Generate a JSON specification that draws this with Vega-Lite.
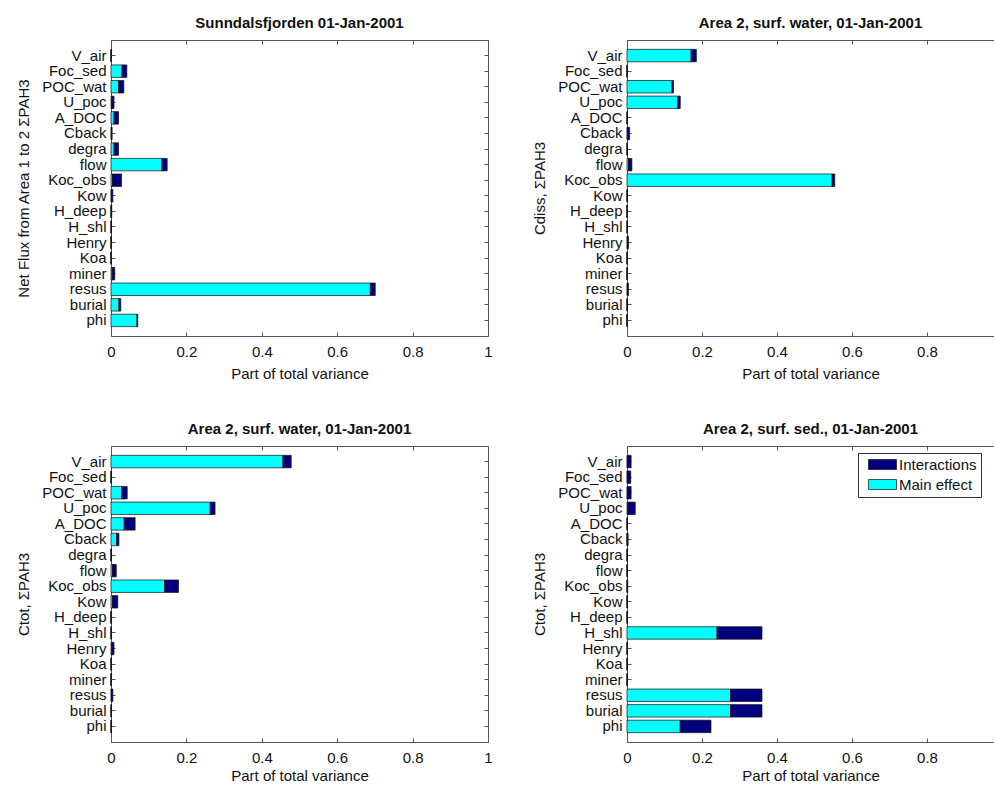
{
  "$schema": "https://vega.github.io/schema/vega-lite/v6.json",
  "padding": {"left": 16, "top": 15, "right": 0, "bottom": 0},
  "background": "white",
  "config": {
    "font": "Liberation Sans",
    "view": {"stroke": null},
    "axis": {"grid": false, "domainColor": "#555", "tickColor": "#555", "tickSize": -4, "labelFontSize": 15, "titleFontSize": 15, "titleFontWeight": "normal", "labelColor": "#111", "titleColor": "#111"},
    "title": {"fontSize": 15, "fontWeight": "bold", "offset": 9, "baseline": "alphabetic", "color": "#111"}
  },
  "datasets": {
    "v": [
      {"panel": "A", "param": "V_air", "Main effect": 0, "Interactions": 0.001},
      {"panel": "A", "param": "Foc_sed", "Main effect": 0.029, "Interactions": 0.013},
      {"panel": "A", "param": "POC_wat", "Main effect": 0.02, "Interactions": 0.014},
      {"panel": "A", "param": "U_poc", "Main effect": 0.002, "Interactions": 0.006},
      {"panel": "A", "param": "A_DOC", "Main effect": 0.008, "Interactions": 0.012},
      {"panel": "A", "param": "Cback", "Main effect": 0.001, "Interactions": 0.002},
      {"panel": "A", "param": "degra", "Main effect": 0.008, "Interactions": 0.012},
      {"panel": "A", "param": "flow", "Main effect": 0.135, "Interactions": 0.014},
      {"panel": "A", "param": "Koc_obs", "Main effect": 0.004, "Interactions": 0.024},
      {"panel": "A", "param": "Kow", "Main effect": 0.001, "Interactions": 0.004},
      {"panel": "A", "param": "H_deep", "Main effect": 0, "Interactions": 0.002},
      {"panel": "A", "param": "H_shl", "Main effect": 0, "Interactions": 0.001},
      {"panel": "A", "param": "Henry", "Main effect": 0, "Interactions": 0.001},
      {"panel": "A", "param": "Koa", "Main effect": 0, "Interactions": 0},
      {"panel": "A", "param": "miner", "Main effect": 0.003, "Interactions": 0.007},
      {"panel": "A", "param": "resus", "Main effect": 0.688, "Interactions": 0.013},
      {"panel": "A", "param": "burial", "Main effect": 0.021, "Interactions": 0.005},
      {"panel": "A", "param": "phi", "Main effect": 0.069, "Interactions": 0.002},
      {"panel": "B", "param": "V_air", "Main effect": 0.171, "Interactions": 0.014},
      {"panel": "B", "param": "Foc_sed", "Main effect": 0, "Interactions": 0},
      {"panel": "B", "param": "POC_wat", "Main effect": 0.12, "Interactions": 0.004},
      {"panel": "B", "param": "U_poc", "Main effect": 0.135, "Interactions": 0.007},
      {"panel": "B", "param": "A_DOC", "Main effect": 0, "Interactions": 0.001},
      {"panel": "B", "param": "Cback", "Main effect": 0.001, "Interactions": 0.006},
      {"panel": "B", "param": "degra", "Main effect": 0, "Interactions": 0.001},
      {"panel": "B", "param": "flow", "Main effect": 0.004, "Interactions": 0.009},
      {"panel": "B", "param": "Koc_obs", "Main effect": 0.547, "Interactions": 0.007},
      {"panel": "B", "param": "Kow", "Main effect": 0, "Interactions": 0.001},
      {"panel": "B", "param": "H_deep", "Main effect": 0, "Interactions": 0},
      {"panel": "B", "param": "H_shl", "Main effect": 0, "Interactions": 0.001},
      {"panel": "B", "param": "Henry", "Main effect": 0.001, "Interactions": 0.003},
      {"panel": "B", "param": "Koa", "Main effect": 0, "Interactions": 0},
      {"panel": "B", "param": "miner", "Main effect": 0, "Interactions": 0},
      {"panel": "B", "param": "resus", "Main effect": 0.001, "Interactions": 0.003},
      {"panel": "B", "param": "burial", "Main effect": 0, "Interactions": 0.001},
      {"panel": "B", "param": "phi", "Main effect": 0, "Interactions": 0},
      {"panel": "C", "param": "V_air", "Main effect": 0.456, "Interactions": 0.022},
      {"panel": "C", "param": "Foc_sed", "Main effect": 0, "Interactions": 0.001},
      {"panel": "C", "param": "POC_wat", "Main effect": 0.028, "Interactions": 0.015},
      {"panel": "C", "param": "U_poc", "Main effect": 0.263, "Interactions": 0.013},
      {"panel": "C", "param": "A_DOC", "Main effect": 0.035, "Interactions": 0.029},
      {"panel": "C", "param": "Cback", "Main effect": 0.015, "Interactions": 0.006},
      {"panel": "C", "param": "degra", "Main effect": 0, "Interactions": 0.001},
      {"panel": "C", "param": "flow", "Main effect": 0.004, "Interactions": 0.01},
      {"panel": "C", "param": "Koc_obs", "Main effect": 0.142, "Interactions": 0.037},
      {"panel": "C", "param": "Kow", "Main effect": 0.004, "Interactions": 0.014},
      {"panel": "C", "param": "H_deep", "Main effect": 0, "Interactions": 0},
      {"panel": "C", "param": "H_shl", "Main effect": 0, "Interactions": 0.001},
      {"panel": "C", "param": "Henry", "Main effect": 0.002, "Interactions": 0.006},
      {"panel": "C", "param": "Koa", "Main effect": 0, "Interactions": 0.001},
      {"panel": "C", "param": "miner", "Main effect": 0, "Interactions": 0.001},
      {"panel": "C", "param": "resus", "Main effect": 0.001, "Interactions": 0.004},
      {"panel": "C", "param": "burial", "Main effect": 0, "Interactions": 0.001},
      {"panel": "C", "param": "phi", "Main effect": 0, "Interactions": 0.001},
      {"panel": "D", "param": "V_air", "Main effect": 0.001, "Interactions": 0.01},
      {"panel": "D", "param": "Foc_sed", "Main effect": 0.001, "Interactions": 0.009},
      {"panel": "D", "param": "POC_wat", "Main effect": 0.001, "Interactions": 0.01},
      {"panel": "D", "param": "U_poc", "Main effect": 0.002, "Interactions": 0.02},
      {"panel": "D", "param": "A_DOC", "Main effect": 0, "Interactions": 0.001},
      {"panel": "D", "param": "Cback", "Main effect": 0, "Interactions": 0.003},
      {"panel": "D", "param": "degra", "Main effect": 0, "Interactions": 0.001},
      {"panel": "D", "param": "flow", "Main effect": 0, "Interactions": 0.001},
      {"panel": "D", "param": "Koc_obs", "Main effect": 0, "Interactions": 0.002},
      {"panel": "D", "param": "Kow", "Main effect": 0, "Interactions": 0.001},
      {"panel": "D", "param": "H_deep", "Main effect": 0, "Interactions": 0.001},
      {"panel": "D", "param": "H_shl", "Main effect": 0.24, "Interactions": 0.12},
      {"panel": "D", "param": "Henry", "Main effect": 0, "Interactions": 0.001},
      {"panel": "D", "param": "Koa", "Main effect": 0, "Interactions": 0.001},
      {"panel": "D", "param": "miner", "Main effect": 0, "Interactions": 0.001},
      {"panel": "D", "param": "resus", "Main effect": 0.276, "Interactions": 0.084},
      {"panel": "D", "param": "burial", "Main effect": 0.276, "Interactions": 0.084},
      {"panel": "D", "param": "phi", "Main effect": 0.142, "Interactions": 0.082}
    ]
  },
  "data": {"name": "v"},
  "transform": [{"fold": ["Main effect", "Interactions"], "as": ["type", "value"]}],
  "resolve": {"scale": {"color": "independent"}, "legend": {"color": "independent"}},
  "spacing": 39,
  "hconcat": [
    {
      "spacing": 39,
      "resolve": {"scale": {"color": "independent"}, "legend": {"color": "independent"}},
      "vconcat": [
        {
          "title": "Sunndalsfjorden 01-Jan-2001",
          "width": 377, "height": 296,
          "transform": [{"filter": "datum.panel == 'A'"}],
          "resolve": {"axis": {"x": "independent", "y": "independent"}},
          "layer": [
            {
              "mark": {"type": "bar", "stroke": "#111", "strokeWidth": 0.7},
              "encoding": {
                "y": {"field": "param", "type": "nominal", "sort": ["V_air","Foc_sed","POC_wat","U_poc","A_DOC","Cback","degra","flow","Koc_obs","Kow","H_deep","H_shl","Henry","Koa","miner","resus","burial","phi"], "scale": {"paddingInner": 0.2, "paddingOuter": 0.6}, "axis": {"orient": "left", "title": "Net Flux from Area 1 to 2 ΣPAH3", "labelPadding": 9, "minExtent": 70, "maxExtent": 70, "titlePadding": 10}},
                "x": {"field": "value", "type": "quantitative", "stack": "zero", "scale": {"domain": [0, 1], "nice": false}, "axis": {"orient": "bottom", "title": "Part of total variance", "values": [0, 0.2, 0.4, 0.6, 0.8, 1], "format": "~g", "labelFlush": false, "labelPadding": 12.5, "titlePadding": 7}},
                "color": {"field": "type", "type": "nominal", "scale": {"domain": ["Interactions", "Main effect"], "range": ["#00007F", "#00FFFF"]}, "legend": null},
                "order": {"field": "type", "sort": "descending"}
              }
            },
            {
              "mark": {"type": "bar", "opacity": 0},
              "encoding": {
                "y": {"field": "param", "type": "nominal", "sort": ["V_air","Foc_sed","POC_wat","U_poc","A_DOC","Cback","degra","flow","Koc_obs","Kow","H_deep","H_shl","Henry","Koa","miner","resus","burial","phi"], "axis": {"orient": "right", "labels": false, "title": null}},
                "x": {"field": "value", "type": "quantitative", "stack": "zero", "axis": {"orient": "top", "labels": false, "title": null, "values": [0, 0.2, 0.4, 0.6, 0.8, 1]}}
              }
            }
          ]
        },
        {
          "title": "Area 2, surf. water, 01-Jan-2001",
          "width": 377, "height": 296,
          "transform": [{"filter": "datum.panel == 'C'"}],
          "resolve": {"axis": {"x": "independent", "y": "independent"}},
          "layer": [
            {
              "mark": {"type": "bar", "stroke": "#111", "strokeWidth": 0.7},
              "encoding": {
                "y": {"field": "param", "type": "nominal", "sort": ["V_air","Foc_sed","POC_wat","U_poc","A_DOC","Cback","degra","flow","Koc_obs","Kow","H_deep","H_shl","Henry","Koa","miner","resus","burial","phi"], "scale": {"paddingInner": 0.2, "paddingOuter": 0.6}, "axis": {"orient": "left", "title": "Ctot, ΣPAH3", "labelPadding": 9, "minExtent": 70, "maxExtent": 70, "titlePadding": 10}},
                "x": {"field": "value", "type": "quantitative", "stack": "zero", "scale": {"domain": [0, 1], "nice": false}, "axis": {"orient": "bottom", "title": "Part of total variance", "values": [0, 0.2, 0.4, 0.6, 0.8, 1], "format": "~g", "labelFlush": false, "labelPadding": 12.5, "titlePadding": 3}},
                "color": {"field": "type", "type": "nominal", "scale": {"domain": ["Interactions", "Main effect"], "range": ["#00007F", "#00FFFF"]}, "legend": null},
                "order": {"field": "type", "sort": "descending"}
              }
            },
            {
              "mark": {"type": "bar", "opacity": 0},
              "encoding": {
                "y": {"field": "param", "type": "nominal", "sort": ["V_air","Foc_sed","POC_wat","U_poc","A_DOC","Cback","degra","flow","Koc_obs","Kow","H_deep","H_shl","Henry","Koa","miner","resus","burial","phi"], "axis": {"orient": "right", "labels": false, "title": null}},
                "x": {"field": "value", "type": "quantitative", "stack": "zero", "axis": {"orient": "top", "labels": false, "title": null, "values": [0, 0.2, 0.4, 0.6, 0.8, 1]}}
              }
            }
          ]
        }
      ]
    },
    {
      "spacing": 39,
      "resolve": {"scale": {"color": "independent"}, "legend": {"color": "independent"}},
      "vconcat": [
        {
          "title": "Area 2, surf. water, 01-Jan-2001",
          "width": 367, "height": 296,
          "transform": [{"filter": "datum.panel == 'B'"}],
          "resolve": {"axis": {"x": "independent", "y": "independent"}},
          "layer": [
            {
              "mark": {"type": "bar", "stroke": "#111", "strokeWidth": 0.7},
              "encoding": {
                "y": {"field": "param", "type": "nominal", "sort": ["V_air","Foc_sed","POC_wat","U_poc","A_DOC","Cback","degra","flow","Koc_obs","Kow","H_deep","H_shl","Henry","Koa","miner","resus","burial","phi"], "scale": {"paddingInner": 0.2, "paddingOuter": 0.6}, "axis": {"orient": "left", "title": "Cdiss, ΣPAH3", "labelPadding": 9, "minExtent": 70, "maxExtent": 70, "titlePadding": 10}},
                "x": {"field": "value", "type": "quantitative", "stack": "zero", "scale": {"domain": [0, 0.9787], "nice": false}, "axis": {"orient": "bottom", "title": "Part of total variance", "values": [0, 0.2, 0.4, 0.6, 0.8], "format": "~g", "labelFlush": false, "labelPadding": 12.5, "titlePadding": 7}},
                "color": {"field": "type", "type": "nominal", "scale": {"domain": ["Interactions", "Main effect"], "range": ["#00007F", "#00FFFF"]}, "legend": null},
                "order": {"field": "type", "sort": "descending"}
              }
            },
            {
              "mark": {"type": "bar", "opacity": 0},
              "encoding": {
                "y": {"field": "param", "type": "nominal", "sort": ["V_air","Foc_sed","POC_wat","U_poc","A_DOC","Cback","degra","flow","Koc_obs","Kow","H_deep","H_shl","Henry","Koa","miner","resus","burial","phi"], "axis": null},
                "x": {"field": "value", "type": "quantitative", "stack": "zero", "axis": {"orient": "top", "labels": false, "title": null, "values": [0, 0.2, 0.4, 0.6, 0.8]}}
              }
            }
          ]
        },
        {
          "title": "Area 2, surf. sed., 01-Jan-2001",
          "width": 367, "height": 296,
          "transform": [{"filter": "datum.panel == 'D'"}],
          "resolve": {"axis": {"x": "independent", "y": "independent"}},
          "layer": [
            {
              "mark": {"type": "bar", "stroke": "#111", "strokeWidth": 0.7},
              "encoding": {
                "y": {"field": "param", "type": "nominal", "sort": ["V_air","Foc_sed","POC_wat","U_poc","A_DOC","Cback","degra","flow","Koc_obs","Kow","H_deep","H_shl","Henry","Koa","miner","resus","burial","phi"], "scale": {"paddingInner": 0.2, "paddingOuter": 0.6}, "axis": {"orient": "left", "title": "Ctot, ΣPAH3", "labelPadding": 9, "minExtent": 70, "maxExtent": 70, "titlePadding": 10}},
                "x": {"field": "value", "type": "quantitative", "stack": "zero", "scale": {"domain": [0, 0.9787], "nice": false}, "axis": {"orient": "bottom", "title": "Part of total variance", "values": [0, 0.2, 0.4, 0.6, 0.8], "format": "~g", "labelFlush": false, "labelPadding": 12.5, "titlePadding": 3}},
                "color": {"field": "type", "type": "nominal", "scale": {"domain": ["Interactions", "Main effect"], "range": ["#00007F", "#00FFFF"]}, "legend": {"orient": "none", "legendX": 231, "legendY": 7, "title": null, "symbolType": "M-2.8,-1H2.8V1H-2.8Z", "symbolSize": 100, "symbolOffset": 13, "labelOffset": 9, "padding": 4, "rowPadding": 4, "strokeColor": "#333", "fillColor": "white", "labelFontSize": 15, "labelColor": "#111", "symbolStrokeColor": "#111", "symbolStrokeWidth": 0.7, "symbolOpacity": 1}},
                "order": {"field": "type", "sort": "descending"}
              }
            },
            {
              "mark": {"type": "bar", "opacity": 0},
              "encoding": {
                "y": {"field": "param", "type": "nominal", "sort": ["V_air","Foc_sed","POC_wat","U_poc","A_DOC","Cback","degra","flow","Koc_obs","Kow","H_deep","H_shl","Henry","Koa","miner","resus","burial","phi"], "axis": null},
                "x": {"field": "value", "type": "quantitative", "stack": "zero", "axis": {"orient": "top", "labels": false, "title": null, "values": [0, 0.2, 0.4, 0.6, 0.8]}}
              }
            }
          ]
        }
      ]
    }
  ]
}
